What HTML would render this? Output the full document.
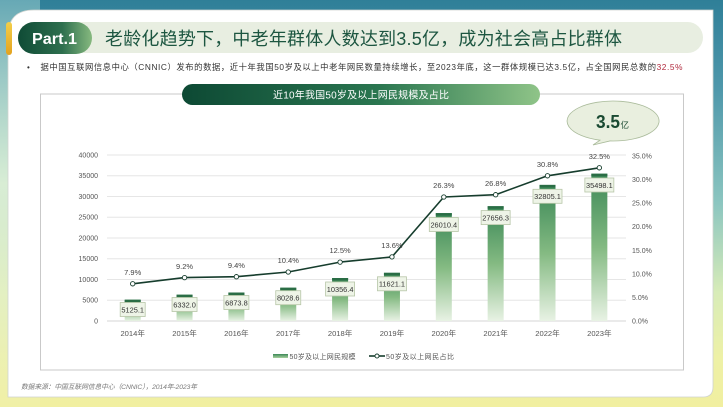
<!DOCTYPE html>
<html><head><meta charset="utf-8"><style>
html,body{margin:0;padding:0;}
body{width:723px;height:407px;overflow:hidden;position:relative;
background:linear-gradient(180deg,#2f7f98 0%,#4f98ab 22%,#8cc6c0 50%,#d8ecb8 72%,#eef1a6 88%,#f1efa0 100%);}
.leftglow{position:absolute;left:0;top:0;width:40px;height:407px;
background:linear-gradient(180deg,rgba(140,196,200,0.6) 0%,rgba(225,242,215,0.9) 45%,rgba(240,240,170,0.6) 100%);}
svg{position:absolute;left:0;top:0;}
text{font-family:"Liberation Sans","Noto Sans CJK SC",sans-serif;}
</style></head><body>
<div class="leftglow"></div>
<svg width="723" height="407" viewBox="0 0 723 407" xmlns="http://www.w3.org/2000/svg">
<defs>
<linearGradient id="partg" x1="0" y1="0" x2="1" y2="0">
<stop offset="0" stop-color="#0f4b36"/><stop offset="0.6" stop-color="#2e6f4e"/><stop offset="1" stop-color="#86b97f"/></linearGradient>
<linearGradient id="ctg" x1="0" y1="0" x2="1" y2="0">
<stop offset="0" stop-color="#0d4934"/><stop offset="0.55" stop-color="#2a7650"/><stop offset="1" stop-color="#8fc488"/></linearGradient>
<linearGradient id="barg" x1="0" y1="0" x2="0" y2="1">
<stop offset="0" stop-color="#3b8857"/><stop offset="0.5" stop-color="#84ba82"/><stop offset="1" stop-color="#e8f2e4"/></linearGradient>
<linearGradient id="tabg" x1="0" y1="0" x2="0" y2="1">
<stop offset="0" stop-color="#f3cf4a"/><stop offset="1" stop-color="#e3a21f"/></linearGradient>
<linearGradient id="legg" x1="0" y1="0" x2="0" y2="1">
<stop offset="0" stop-color="#3b8857"/><stop offset="1" stop-color="#a8d09e"/></linearGradient>
</defs>

<!-- card -->
<path d="M8,36 Q8,10 34,10 L713,10 L713,387 Q713,397 703,397 L8,397 Z" fill="#ffffff" stroke="#d0d4d0" stroke-width="0.8"/>
<!-- orange tab -->
<rect x="6" y="22" width="6" height="33" rx="3" fill="url(#tabg)"/>

<!-- title bar -->
<rect x="18" y="22" width="685" height="31" rx="15.5" fill="#e8eee1"/>
<rect x="18" y="22" width="74" height="32" rx="16" fill="url(#partg)"/>
<text x="32" y="44" font-size="16" font-weight="bold" fill="#ffffff" textLength="45" lengthAdjust="spacingAndGlyphs">Part.1</text>
<text x="105" y="45" font-size="18" fill="#1d5641" textLength="517" lengthAdjust="spacing">老龄化趋势下，中老年群体人数达到3.5亿，成为社会高占比群体</text>

<!-- bullet -->
<text x="27" y="70" font-size="8" fill="#333">•</text>
<text x="40.5" y="70" font-size="8.3" fill="#333" textLength="642" lengthAdjust="spacing">据中国互联网信息中心（CNNIC）发布的数据，近十年我国50岁及以上中老年网民数量持续增长，至2023年底，这一群体规模已达3.5亿，占全国网民总数的<tspan fill="#b0283c">32.5%</tspan></text>

<!-- chart frame -->
<rect x="40.5" y="94" width="643" height="276" fill="#ffffff" stroke="#c9c9c9" stroke-width="1"/>
<rect x="182" y="84" width="358" height="21" rx="10.5" fill="url(#ctg)"/>
<text x="273" y="98.5" font-size="10" fill="#ffffff" textLength="176" lengthAdjust="spacing">近10年我国50岁及以上网民规模及占比</text>

<!-- bubble -->
<path d="M600,140.18 L593,145 L610,140.96 A46,20 0 1 0 600,140.18 Z" fill="#e9efdf" stroke="#aabb9b" stroke-width="0.8"/>
<text x="596" y="128" font-size="18" font-weight="bold" fill="#1a4a32" textLength="24" lengthAdjust="spacingAndGlyphs">3.5</text>
<text x="620.5" y="128" font-size="8.5" fill="#1a4a32">亿</text>

<!-- gridlines -->
<g stroke="#e6e6e6" stroke-width="1">
<line x1="107" x2="626" y1="155" y2="155"/>
<line x1="107" x2="626" y1="175.75" y2="175.75"/>
<line x1="107" x2="626" y1="196.5" y2="196.5"/>
<line x1="107" x2="626" y1="217.25" y2="217.25"/>
<line x1="107" x2="626" y1="238" y2="238"/>
<line x1="107" x2="626" y1="258.75" y2="258.75"/>
<line x1="107" x2="626" y1="279.5" y2="279.5"/>
<line x1="107" x2="626" y1="300.25" y2="300.25"/>
<line x1="107" x2="626" y1="321" y2="321" stroke="#d6d6d6"/>
</g>

<!-- left axis -->
<g font-size="7" fill="#555" text-anchor="end">
<text x="98" y="157.5">40000</text>
<text x="98" y="178.2">35000</text>
<text x="98" y="199">30000</text>
<text x="98" y="219.7">25000</text>
<text x="98" y="240.5">20000</text>
<text x="98" y="261.2">15000</text>
<text x="98" y="282">10000</text>
<text x="98" y="302.7">5000</text>
<text x="98" y="323.5">0</text>
</g>
<!-- right axis -->
<g font-size="7" fill="#555">
<text x="632" y="158.5">35.0%</text>
<text x="632" y="182">30.0%</text>
<text x="632" y="205.6">25.0%</text>
<text x="632" y="229.2">20.0%</text>
<text x="632" y="252.8">15.0%</text>
<text x="632" y="276.4">10.0%</text>
<text x="632" y="300">5.0%</text>
<text x="632" y="323.5">0.0%</text>
</g>

<!-- bars -->
<g fill="url(#barg)">
<rect x="124.7" y="299.7" width="16" height="21.3"/>
<rect x="176.55" y="294.7" width="16" height="26.3"/>
<rect x="228.4" y="292.5" width="16" height="28.5"/>
<rect x="280.25" y="287.7" width="16" height="33.3"/>
<rect x="332.1" y="278" width="16" height="43"/>
<rect x="383.95" y="272.8" width="16" height="48.2"/>
<rect x="435.8" y="213.1" width="16" height="107.9"/>
<rect x="487.65" y="206.2" width="16" height="114.8"/>
<rect x="539.5" y="184.9" width="16" height="136.1"/>
<rect x="591.35" y="173.7" width="16" height="147.3"/>
</g>
<g fill="#2a6d45">
<rect x="124.7" y="299.7" width="16" height="2.5"/>
<rect x="176.55" y="294.7" width="16" height="2.5"/>
<rect x="228.4" y="292.5" width="16" height="2.5"/>
<rect x="280.25" y="287.7" width="16" height="2.5"/>
<rect x="332.1" y="278" width="16" height="2.5"/>
<rect x="383.95" y="272.8" width="16" height="2.5"/>
<rect x="435.8" y="213.1" width="16" height="2.5"/>
<rect x="487.65" y="206.2" width="16" height="2.5"/>
<rect x="539.5" y="184.9" width="16" height="2.5"/>
<rect x="591.35" y="173.7" width="16" height="2.5"/>
</g>
<!-- bar labels -->
<g fill="#eef4e7" stroke="#b7c6a8" stroke-width="0.8">
<rect x="120.2" y="302.5" width="25" height="14"/>
<rect x="172.05" y="297.5" width="25" height="14"/>
<rect x="223.9" y="295.5" width="25" height="14"/>
<rect x="275.75" y="290.7" width="25" height="14"/>
<rect x="325.6" y="282" width="29" height="14"/>
<rect x="377.45" y="276.8" width="29" height="14"/>
<rect x="429.3" y="217.5" width="29" height="14"/>
<rect x="481.15" y="210.6" width="29" height="14"/>
<rect x="533" y="189.3" width="29" height="14"/>
<rect x="584.85" y="178" width="29" height="14"/>
</g>
<g font-size="7.4" fill="#333" text-anchor="middle">
<text x="132.7" y="312.3">5125.1</text>
<text x="184.55" y="307.3">6332.0</text>
<text x="236.4" y="305.3">6873.8</text>
<text x="288.25" y="300.5">8028.6</text>
<text x="340.1" y="291.8">10356.4</text>
<text x="391.95" y="286.6">11621.1</text>
<text x="443.8" y="227.3">26010.4</text>
<text x="495.65" y="220.4">27656.3</text>
<text x="547.5" y="199.1">32805.1</text>
<text x="599.35" y="187.8">35498.1</text>
</g>

<!-- line -->
<polyline fill="none" stroke="#163d2d" stroke-width="1.6" stroke-linejoin="round"
points="132.7,283.8 184.55,277.6 236.4,276.7 288.25,272 340.1,262.1 391.95,256.9 443.8,197 495.65,194.7 547.5,175.8 599.35,167.8"/>
<g fill="#ffffff" stroke="#163d2d" stroke-width="0.9">
<circle cx="132.7" cy="283.8" r="2.2"/>
<circle cx="184.55" cy="277.6" r="2.2"/>
<circle cx="236.4" cy="276.7" r="2.2"/>
<circle cx="288.25" cy="272" r="2.2"/>
<circle cx="340.1" cy="262.1" r="2.2"/>
<circle cx="391.95" cy="256.9" r="2.2"/>
<circle cx="443.8" cy="197" r="2.2"/>
<circle cx="495.65" cy="194.7" r="2.2"/>
<circle cx="547.5" cy="175.8" r="2.2"/>
<circle cx="599.35" cy="167.8" r="2.2"/>
</g>
<g font-size="7.5" fill="#444" text-anchor="middle">
<text x="132.7" y="275">7.9%</text>
<text x="184.55" y="269">9.2%</text>
<text x="236.4" y="268">9.4%</text>
<text x="288.25" y="263">10.4%</text>
<text x="340.1" y="253">12.5%</text>
<text x="391.95" y="248">13.6%</text>
<text x="443.8" y="188">26.3%</text>
<text x="495.65" y="186">26.8%</text>
<text x="547.5" y="167">30.8%</text>
<text x="599.35" y="159">32.5%</text>
</g>

<!-- x labels -->
<g font-size="7.6" fill="#555" text-anchor="middle">
<text x="132.7" y="336">2014年</text>
<text x="184.55" y="336">2015年</text>
<text x="236.4" y="336">2016年</text>
<text x="288.25" y="336">2017年</text>
<text x="340.1" y="336">2018年</text>
<text x="391.95" y="336">2019年</text>
<text x="443.8" y="336">2020年</text>
<text x="495.65" y="336">2021年</text>
<text x="547.5" y="336">2022年</text>
<text x="599.35" y="336">2023年</text>
</g>

<!-- legend -->
<rect x="273" y="354" width="15" height="4" fill="url(#legg)"/>
<text x="289.5" y="359" font-size="7" fill="#555" textLength="66" lengthAdjust="spacing">50岁及以上网民规模</text>
<line x1="369" y1="356" x2="385" y2="356" stroke="#163d2d" stroke-width="1.6"/>
<circle cx="377" cy="356" r="2" fill="#fff" stroke="#163d2d" stroke-width="0.9"/>
<text x="386" y="359" font-size="7" fill="#555" textLength="68" lengthAdjust="spacing">50岁及以上网民占比</text>

<!-- source -->
<text x="21" y="389" font-size="6.8" font-style="italic" fill="#7a7a7a" textLength="176" lengthAdjust="spacing">数据来源：中国互联网信息中心（CNNIC），2014年-2023年</text>
</svg>
</body></html>
